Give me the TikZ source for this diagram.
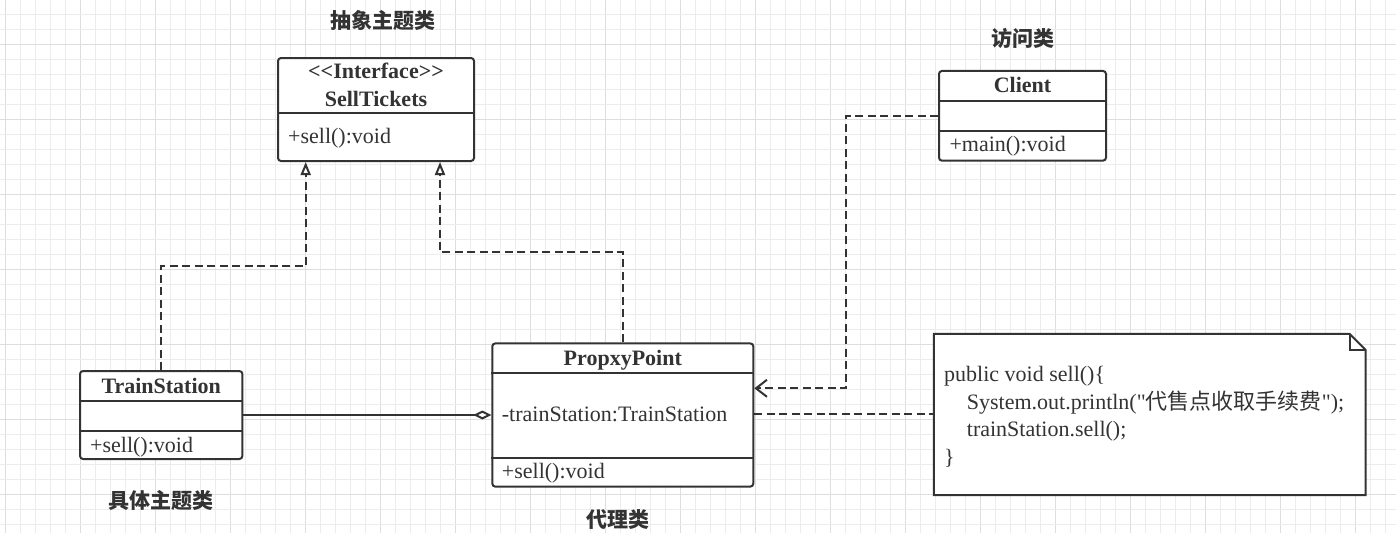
\documentclass[tikz,border=0pt]{standalone}
\usepackage{fontspec}
\setmainfont{Liberation Serif}[Ligatures=TeXOff]
\newfontfamily\cjk{Noto Sans CJK SC}
\usetikzlibrary{arrows.meta}
\definecolor{ink}{HTML}{333333}
\definecolor{gridminor}{HTML}{ECECEC}
\definecolor{gridmajor}{HTML}{DEDEDE}
\begin{document}
\begin{tikzpicture}[x=1pt,y=-1pt,
  umlbox/.style={draw=ink, line width=2pt, rounded corners=3pt, fill=white, inner sep=0pt},
  divider/.style={draw=ink, line width=2pt},
  ttl/.style={text=ink, inner sep=0pt, font=\fontsize{22}{26}\selectfont\bfseries, anchor=base},
  mem/.style={text=ink, inner sep=0pt, font=\fontsize{22}{26}\selectfont, anchor=base west},
  lbl/.style={text=ink, inner sep=0pt, font=\cjk\bfseries\fontsize{21}{25}\selectfont},
  dep/.style={draw=ink, line width=2pt, dash pattern=on 8pt off 4.5pt},
  realize/.style={dep, -{Triangle[fill=white, length=13pt, width=10pt, line width=2pt]}},
  usearrow/.style={dep, -{Straight Barb[length=11pt, width=17pt, line width=2pt]}},
  aggr/.style={draw=ink, line width=2pt, {Diamond[fill=white, length=18pt, width=9pt, line width=2pt]}-},
  gminor/.style={draw=gridminor, line width=1pt},
  gmajor/.style={draw=gridmajor, line width=1pt}
]
\useasboundingbox[fill=white] (0,0) rectangle (1396,533);
% grid
\foreach \k in {0,...,92} {
  \pgfmathsetmacro{\gx}{5.7+15*\k}
  \pgfmathtruncatemacro{\m}{mod(\k,5)}
  \ifnum\m=0 \draw[gmajor] (\gx,0) -- (\gx,533); \else \draw[gminor] (\gx,0) -- (\gx,533); \fi
}
\foreach \k in {0,...,35} {
  \pgfmathsetmacro{\gy}{14.3+15*\k}
  \pgfmathtruncatemacro{\m}{mod(\k,5)}
  \ifnum\m=2 \draw[gmajor] (0,\gy) -- (1396,\gy); \else \draw[gminor] (0,\gy) -- (1396,\gy); \fi
}

% SellTickets
\node[umlbox, minimum width=196pt, minimum height=103pt] (st) at (376,109.5) {};
\draw[divider] (st.west |- 0,113) -- (st.east |- 0,113);
\node[ttl] (stst) at (376,78.3) {<\kern0pt<Interface>\kern0pt>};
\node[ttl] (stname) at (376,106.7) {SellTickets};
\node[mem] (stm) at (288,143.3) {+sell():void};

% Client
\node[umlbox, minimum width=167pt, minimum height=89.7pt] (client) at (1022.5,115.8) {};
\draw[divider] (client.west |- 0,100.7) -- (client.east |- 0,100.7);
\draw[divider] (client.west |- 0,130.7) -- (client.east |- 0,130.7);
\node[ttl] (clname) at (1022.5,92.7) {Client};
\node[mem] (clm) at (949.3,151.7) {+main():void};

% TrainStation
\node[umlbox, minimum width=162.3pt, minimum height=88pt] (ts) at (161.2,415) {};
\draw[divider] (ts.west |- 0,401) -- (ts.east |- 0,401);
\draw[divider] (ts.west |- 0,431) -- (ts.east |- 0,431);
\node[ttl] (tsname) at (161.2,393.3) {TrainStation};
\node[mem] (tsm) at (90,452.7) {+sell():void};

% PropxyPoint
\node[umlbox, minimum width=261pt, minimum height=143.2pt] (pp) at (622.8,415) {};
\draw[divider] (pp.west |- 0,372.7) -- (pp.east |- 0,372.7);
\draw[divider] (pp.west |- 0,457.7) -- (pp.east |- 0,457.7);
\node[ttl] (ppname) at (622.8,365) {PropxyPoint};
\node[mem] (ppf) at (501.7,421.7) {-trainStation:TrainStation};
\node[mem] (ppm) at (501.7,478.3) {+sell():void};

% Note
\node[minimum width=431.3pt, minimum height=161pt, inner sep=0pt] (note) at (1149.7,414.5) {};
\draw[divider, fill=white, line join=miter] (note.north west) -- ([xshift=-16pt]note.north east) -- ([yshift=-16pt]note.north east) -- (note.south east) -- (note.south west) -- cycle;
\draw[divider, line join=miter] ([xshift=-16pt]note.north east) -- ([xshift=-16pt,yshift=-16pt]note.north east) -- ([yshift=-16pt]note.north east);
\node[mem] (n1) at (944,381.7) {public void sell()\{};
\node[mem] (n2) at (966.7,409) {System.out.println("{\cjk 代售点收取手续费}");};
\node[mem] (n3) at (966.7,436.7) {trainStation.sell();};
\node[mem] (n4) at (944,464) {\}};

% Labels
\node[lbl] (l1) at (383,20.5) {抽象主题类};
\node[lbl] (l2) at (1023,38.3) {访问类};
\node[lbl] (l3) at (161,500) {具体主题类};
\node[lbl] (l4) at (618,520) {代理类};

% Connectors
\coordinate (b1) at (305.7,266);
\coordinate (b2) at (440,252.3);
\coordinate (c1) at (845.7,115.8);
\coordinate (c2) at (845.7,388.3);
\draw[realize] (ts.north) |- (b1) -- (st.south -| b1);
\draw[realize] (pp.north) |- (b2) -- (st.south -| b2);
\draw[usearrow] (client.west) -- (c1) -- (c2) -- (pp.east |- c2);
\draw[aggr] (ts.east -| pp.west) -- (ts.east);
\draw[dep] (pp.east |- 0,414.3) -- (note.west |- 0,414.3);
\end{tikzpicture}
\end{document}
